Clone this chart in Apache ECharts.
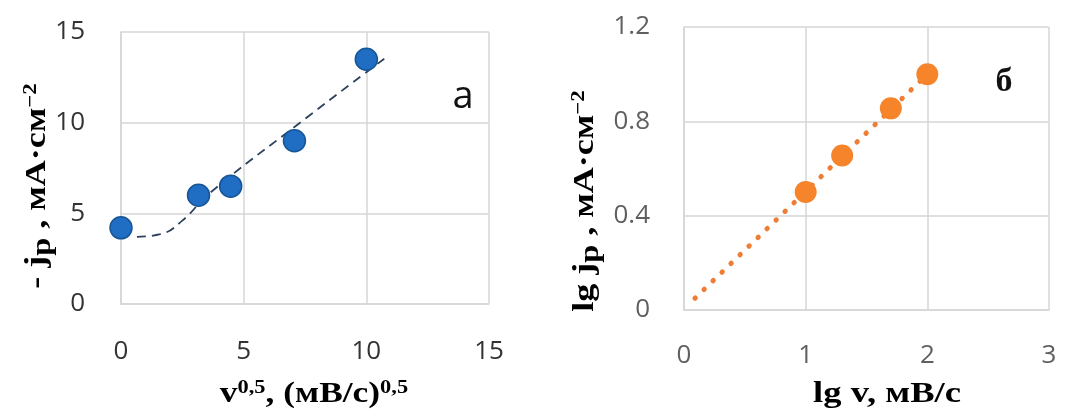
<!DOCTYPE html>
<html>
<head>
<meta charset="utf-8">
<script src="https://cdn.jsdelivr.net/npm/echarts@6/dist/echarts.min.js"></script>
<style>
  html, body { margin: 0; padding: 0; background: #fff; }
  #chart { width: 1087px; height: 416px; }
</style>
</head>
<body>
<div id="chart"></div>
<script>
// Panel a: peak current vs square root of scan rate
const sqrtRate = [0, 3.16, 4.47, 7.07, 10];
const peakCurrent = [4.2, 6.0, 6.5, 9.0, 13.5];
// dashed fitted curve through panel a
const trendA = [[0.65, 3.7], [1.6, 3.85], [2.5, 4.6], [3.6, 6.1], [7.3, 10.0], [10.9, 13.7]];

// Panel б: log peak current vs log scan rate
const logRate = [1, 1.3, 1.7, 2];
const logCurrent = [0.5, 0.655, 0.855, 1.0];
// dotted linear fit through panel б
const trendB = [[0.09, 0.05], [2.0, 1.0]];

// tick values
const ticksAx = [0, 5, 10, 15];
const ticksAy = [0, 5, 10, 15];
const ticksBx = [0, 1, 2, 3];
const ticksBy = [0, 0.4, 0.8, 1.2];

const tickFont = '"Open Sans", sans-serif';
const nameFont = '"Liberation Serif", "Times New Roman", serif';
const gridColor = '#d6d6d6';

function pairs(xs, ys) { return xs.map((x, i) => [x, ys[i]]); }

function valueAxis(ticks, color, margin, fmt) {
  return {
    type: 'value',
    min: ticks[0],
    max: ticks[ticks.length - 1],
    interval: ticks[1] - ticks[0],
    axisLine: { show: true, lineStyle: { color: gridColor, width: 1.5 } },
    axisTick: { show: false },
    splitLine: { show: true, lineStyle: { color: gridColor, width: 1.5 } },
    axisLabel: {
      color: color, fontFamily: tickFont, fontSize: 26, margin: margin,
      formatter: fmt || (v => String(v))
    }
  };
}

const chart = echarts.init(document.getElementById('chart'), null, { renderer: 'canvas' });

// bold serif titles; sub/superscripts are shifted with asymmetric padding
const rich = {
  b: { fontFamily: nameFont, fontWeight: 'bold', fontSize: 30, color: '#111', verticalAlign: 'middle' },
  sub: { fontFamily: nameFont, fontWeight: 'bold', fontSize: 27, color: '#111', verticalAlign: 'middle', padding: [12, 0, 0, 0] },
  sup: { fontFamily: nameFont, fontWeight: 'bold', fontSize: 19, color: '#111', verticalAlign: 'middle', padding: [0, 0, 12, 0] }
};

function title(text, x, y, rotated, stretch) {
  return {
    type: 'text', x: x, y: y, rotation: rotated ? Math.PI / 2 : 0, scaleX: stretch,
    style: { text: text, rich: rich, align: 'center', verticalAlign: 'middle' }
  };
}

chart.setOption({
  animation: false,
  grid: [
    { left: 121, top: 32, width: 368, height: 272 },
    { left: 684, top: 27, width: 365, height: 283 }
  ],
  xAxis: [
    Object.assign(valueAxis(ticksAx, '#333', 35), { gridIndex: 0 }),
    Object.assign(valueAxis(ticksBx, '#606060', 33), { gridIndex: 1 })
  ],
  yAxis: [
    Object.assign(valueAxis(ticksAy, '#333', 36), { gridIndex: 0 }),
    Object.assign(valueAxis(ticksBy, '#606060', 34, v => v === 0 ? '0' : v.toFixed(1)), { gridIndex: 1 })
  ],
  series: [
    {
      type: 'line', xAxisIndex: 0, yAxisIndex: 0, data: trendA,
      smooth: 0.5, showSymbol: false, z: 2,
      lineStyle: { color: '#2d405c', width: 1.8, type: [9, 6] }
    },
    {
      type: 'scatter', xAxisIndex: 0, yAxisIndex: 0, data: pairs(sqrtRate, peakCurrent),
      symbolSize: 22, z: 3,
      itemStyle: { color: '#1f6ec4', borderColor: '#185594', borderWidth: 1.5, opacity: 1 }
    },
    {
      type: 'line', xAxisIndex: 1, yAxisIndex: 1, data: trendB,
      showSymbol: false, z: 2,
      lineStyle: { color: '#ee7d35', width: 5, type: [0.5, 12], cap: 'round' }
    },
    {
      type: 'scatter', xAxisIndex: 1, yAxisIndex: 1, data: pairs(logRate, logCurrent),
      symbolSize: 22, z: 3,
      itemStyle: { color: '#f5842b', opacity: 1 }
    }
  ],
  graphic: [
    title('{b|- j}{sub|p}{b| , мА·см}{sup|−2}', 37, 186, true, 1.2),
    title('{b|v}{sup|0,5}{b|, (мВ/с)}{sup|0,5}', 314, 394, false, 1.18),
    title('{b|lg j}{sub|p}{b| , мА·см}{sup|−2}', 585, 201, true, 1.2),
    title('{b|lg v, мВ/с}', 887, 394, false, 1.22),
    // panel letters
    {
      type: 'text', x: 463, y: 97,
      style: { text: 'a', font: '38px "Open Sans", sans-serif', fill: '#111', align: 'center', verticalAlign: 'middle' }
    },
    {
      type: 'text', x: 1004, y: 82,
      style: { text: 'б', font: 'bold 34px "Liberation Serif", serif', fill: '#111', align: 'center', verticalAlign: 'middle' }
    }
  ]
});
</script>
</body>
</html>
